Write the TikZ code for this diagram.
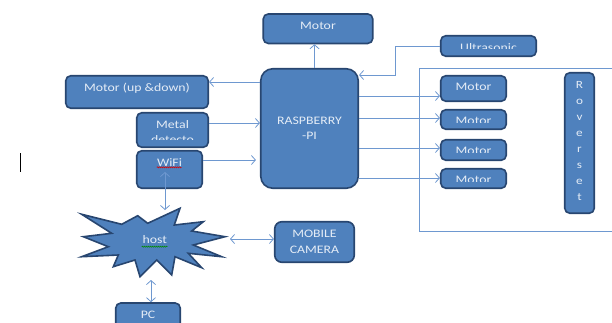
\documentclass[tikz,border=0pt]{standalone}
\usepackage{fontspec}
\setmainfont{Carlito}[FakeStretch=1.2]
\usetikzlibrary{arrows.meta,decorations.pathmorphing}
\definecolor{boxfill}{RGB}{79,129,189}
\definecolor{boxline}{RGB}{40,70,112}
\definecolor{connblue}{RGB}{110,152,208}
\definecolor{textwhite}{RGB}{228,236,246}

\tikzset{
  blockbox/.style={draw=boxline, fill=boxfill, line width=1.6pt, rounded corners=5pt, inner sep=0pt},
  boxtext/.style={text=textwhite, font=\fontsize{11.5}{15}\selectfont, align=center},
  txt/.style={boxtext, inner sep=0pt, minimum size=0pt},
  toptext/.style={path picture={\node[txt, anchor=north] at ([yshift=-7pt]path picture bounding box.north) {#1};}},
  cuttext/.style 2 args={path picture={
      \clip (path picture bounding box.north west) rectangle ([yshift=#1]path picture bounding box.south east);
      \node[txt, anchor=north] at ([yshift=-7pt]path picture bounding box.north) {#2};}},
  conn/.style={draw=connblue, line width=0.8pt, >={Straight Barb[length=4pt,width=9pt]}}
}

\begin{document}
\begin{tikzpicture}[x=1pt, y=-1pt]
\useasboundingbox (0,0) rectangle (612,322);
% frame round the drive motors
\draw[connblue, line width=0.8pt] (419.5,68) rectangle (640,231);
% blocks
\node[blockbox, minimum width=109.5pt, minimum height=29.5pt, toptext={Motor}] (mtop) at (318,28.7) {};
\node[blockbox, minimum width=95.5pt, minimum height=20.5pt, cuttext={7.5pt}{Ultrasonic}] (ultra) at (488.5,46) {};
\node[blockbox, minimum width=142.5pt, minimum height=32.5pt, toptext={Motor (up \&down)}] (mupdown) at (137,92) {};
\node[blockbox, minimum width=71.5pt, minimum height=34.5pt, cuttext={7.5pt}{Metal\\detecto}] (metal) at (172.5,130) {};
\node[blockbox, minimum width=65.5pt, minimum height=37.5pt, toptext={WiFi}] (wifi) at (169.5,169.5) {};
\node[blockbox, boxtext, rounded corners=12pt, minimum width=97.5pt, minimum height=119.5pt,
      font=\fontsize{11.5}{14.5}\selectfont] (rpi) at (309.5,128.5) {RASPBERRY\\-PI};
\node[blockbox, minimum width=65.5pt, minimum height=25.5pt, toptext={Motor}] (m1) at (473.5,88.5) {};
\node[blockbox, minimum width=65.5pt, minimum height=19.5pt, cuttext={6.5pt}{Motor}] (m2) at (473.5,119.5) {};
\node[blockbox, minimum width=65.5pt, minimum height=20.5pt, cuttext={7.5pt}{Motor}] (m3) at (473.5,150) {};
\node[blockbox, minimum width=65.5pt, minimum height=19.5pt, cuttext={6.5pt}{Motor}] (m4) at (473.5,178.5) {};
\node[blockbox, boxtext, minimum width=29.5pt, minimum height=140.5pt, text depth=5pt,
      font=\fontsize{11}{16}\selectfont] (rover) at (579.5,143) {R\\o\\v\\e\\r\\s\\e\\t};
\node[blockbox, boxtext, rounded corners=7pt, minimum width=79.5pt, minimum height=40.5pt,
      font=\fontsize{11.5}{15.5}\selectfont] (camera) at (314.5,242) {MOBILE\\CAMERA};
\node[blockbox, minimum width=64.5pt, minimum height=34pt, toptext={PC}] (pc) at (148,320) {};
% host burst
\filldraw[fill=boxfill, draw=boxline, line width=1.6pt]
  (81.7,214.3) -- (121.7,224.3) -- (137.7,215.7) -- (147.7,223.3) -- (180,208.3) -- (174.3,225)
  -- (203.3,221.7) -- (191.7,231) -- (225,236.7) -- (193.3,245) -- (221.7,256.7) -- (188.3,253.3)
  -- (201.7,267.7) -- (175,256.7) -- (171.7,275) -- (156.7,260) -- (140,276.7) -- (135,260)
  -- (113.3,266.7) -- (118.3,255) -- (81.7,256.7) -- (108.3,246.7) -- (83.3,236.7) -- (111.7,233.3) -- cycle;
\node[txt] (host) at (154.7,239.2) {host};
% spell-check marks and cursor
\draw[red!85!black, line width=0.5pt, decorate, decoration={snake, amplitude=0.6pt, segment length=2pt}]
  (156.7,167.3) -- (181.7,167.3);
\draw[green!55!black, line width=0.5pt, decorate, decoration={snake, amplitude=0.6pt, segment length=2pt}]
  (141.7,246.7) -- (167.7,246.7);
\draw[black, line width=1.3pt] (20.7,153) -- (20.7,172);
% connectors
\coordinate (wifiin) at (165,172);
\coordinate (hosttop) at (165,210);
\coordinate (hostright) at (230,239);
\coordinate (hostbot) at (151,280);
\draw[conn, ->] ([xshift=5pt]rpi.north) -- ([xshift=5pt]rpi.north |- mtop.south);
\draw[conn, ->] (rpi.west |- 0,82) -- (mupdown.east |- 0,82);
\draw[conn, ->] (ultra.west) -- ++(-45,0) |- (rpi.east |- 0,75);
\draw[conn, ->] (metal.east |- 0,123) -- (rpi.west |- 0,123);
\draw[conn, ->, shorten >=4pt] (wifi.east |- 0,160) -- (rpi.west |- 0,160);
\draw[conn, ->] (rpi.east |- 0,96) -- (m1.west |- 0,96);
\draw[conn, ->] (rpi.east |- 0,118) -- (m2.west |- 0,118);
\draw[conn, ->] (rpi.east |- 0,148) -- (m3.west |- 0,148);
\draw[conn, ->] (rpi.east |- 0,178) -- (m4.west |- 0,178);
\draw[conn, <->] (wifiin) -- (hosttop);
\draw[conn, <->] (hostright) -- (camera.west |- hostright);
\draw[conn, <->] (hostbot) -- (pc.north -| hostbot);
\end{tikzpicture}
\end{document}
